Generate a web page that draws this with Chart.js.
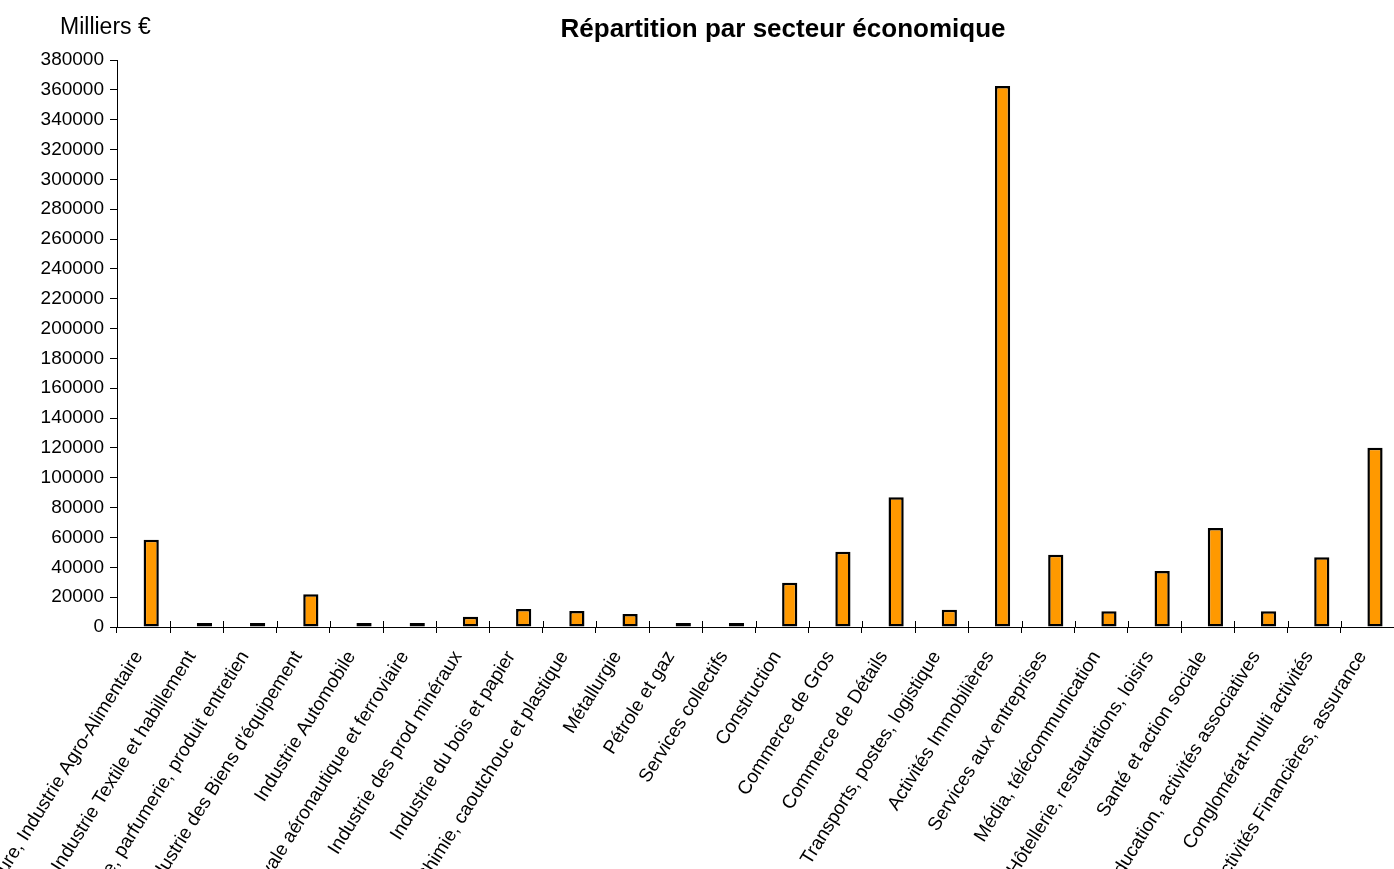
<!DOCTYPE html>
<html lang="fr">
<head>
<meta charset="utf-8">
<title>Répartition par secteur économique</title>
<script src="https://cdn.jsdelivr.net/npm/chart.js@4.4.1/dist/chart.umd.min.js"></script>
<style>
  html, body { margin: 0; padding: 0; background: #fff; overflow: hidden; }
  #wrap { position: relative; width: 1394px; height: 869px; }
</style>
</head>
<body>
<div id="wrap"><canvas id="secteurChart"></canvas></div>
<script>
// ---- Données (milliers €) ----
const secteurs = [
  'Agriculture, Industrie Agro-Alimentaire',
  'Industrie Textile et habillement',
  'Pharmacie, parfumerie, produit entretien',
  "Industrie des Biens d'équipement",
  'Industrie Automobile',
  'Industrie navale aéronautique et ferroviaire',
  'Industrie des prod minéraux',
  'Industrie du bois et papier',
  'Industrie Chimie, caoutchouc et plastique',
  'Métallurgie',
  'Pétrole et gaz',
  'Services collectifs',
  'Construction',
  'Commerce de Gros',
  'Commerce de Détails',
  'Transports, postes, logistique',
  'Activités Immobilières',
  'Services aux entreprises',
  'Média, télécommunication',
  'Hôtellerie, restaurations, loisirs',
  'Santé et action sociale',
  'Éducation, activités associatives',
  'Conglomérat-multi activités',
  'Activités Financières, assurance'
];

const montants = [
  58500, 1800, 1500, 22000, 2200, 1000, 6800, 12000, 10800, 8700, 500, 2600,
  29600, 50500, 87000, 11500, 362500, 48500, 10500, 37500, 66300, 10600, 46800, 120200
];

// série vide d'origine (décale les barres à droite de la catégorie)
const serieVide = [];

const yMin = 0;
const yMax = 380000;
const yStep = 20000;

const FONT = "Arial, 'Liberation Sans', sans-serif";

// ---- Textes hors zone de tracé ----
const textes = {
  id: 'textes',
  afterDraw(chart) {
    const { ctx, chartArea, scales } = chart;
    ctx.save();
    ctx.fillStyle = '#000';
    ctx.textBaseline = 'middle';
    ctx.textAlign = 'center';
    ctx.font = `bold 26px ${FONT}`;
    ctx.fillText('Répartition par secteur économique', 783, 30);
    ctx.textAlign = 'left';
    ctx.font = `23px ${FONT}`;
    ctx.fillText('Milliers €', 60, 28);

    // petits traits au-dessus de l'axe X (graduations croisées)
    const x = scales.x;
    const n = chart.data.labels.length;
    ctx.strokeStyle = '#000';
    ctx.lineWidth = 1;
    ctx.beginPath();
    for (let i = 1; i < n; i++) {
      const px = Math.round((x.getPixelForTick(i - 1) + x.getPixelForTick(i)) / 2) + 0.5;
      ctx.moveTo(px, chartArea.bottom - 6);
      ctx.lineTo(px, chartArea.bottom);
    }
    ctx.stroke();
    ctx.restore();
  }
};

new Chart(document.getElementById('secteurChart'), {
  type: 'bar',
  data: {
    labels: secteurs,
    datasets: [
      { label: '', data: serieVide },
      {
        label: 'Montant',
        data: montants,
        backgroundColor: '#FF9900',
        borderColor: '#000',
        borderWidth: 2.5,
        borderSkipped: false,
        minBarLength: 4
      }
    ]
  },
  options: {
    responsive: true,
    maintainAspectRatio: false,
    animation: false,
    categoryPercentage: 2 / 3.5,
    barPercentage: 1,
    layout: { padding: { top: 60, left: 0, right: 0, bottom: 0 } },
    plugins: {
      legend: { display: false },
      title: { display: false },
      tooltip: { enabled: false }
    },
    scales: {
      x: {
        grid: { drawOnChartArea: false, color: '#000', tickLength: 6, offset: true },
        border: { color: '#000', width: 1 },
        ticks: {
          autoSkip: false,
          minRotation: 58,
          maxRotation: 58,
          padding: 14,
          labelOffset: -5,
          color: '#000',
          font: { size: 19, family: FONT }
        },
        afterFit(scale) {
          scale.height = 869 - 627;
          scale.paddingLeft = 0;
          scale.paddingRight = 0;
        }
      },
      y: {
        min: yMin,
        max: yMax,
        grid: { drawOnChartArea: false, color: '#000', tickLength: 7 },
        border: { color: '#000', width: 1 },
        ticks: {
          stepSize: yStep,
          padding: 6,
          color: '#000',
          font: { size: 19, family: FONT },
          callback: (v) => String(v)
        },
        afterFit(scale) {
          scale.width = 117;
        }
      }
    }
  },
  plugins: [textes]
});
</script>
</body>
</html>
